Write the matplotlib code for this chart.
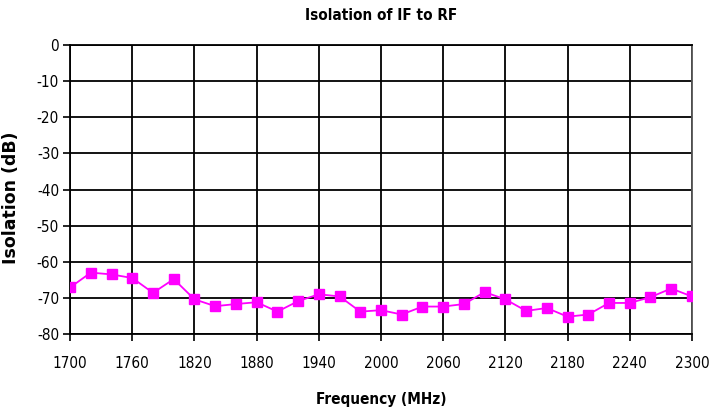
import matplotlib
matplotlib.use("Agg")
import matplotlib.pyplot as plt

# frequency points (MHz) and measured isolation (dB)
freq = list(range(1700, 2301, 20))
isolation = [
    -67.1, -63.0, -63.5, -64.5, -68.6, -64.8, -70.4, -72.3, -71.7, -71.2,
    -73.8, -70.9, -69.0, -69.6, -73.8, -73.4, -74.6, -72.4, -72.4, -71.7,
    -68.4, -70.4, -73.6, -72.8, -75.2, -74.6, -71.4, -71.4, -69.8, -67.4,
    -69.6,
]
xticks = list(range(1700, 2301, 60))
yticks = list(range(-80, 1, 10))

plt.rcParams["font.family"] = ["DejaVu Sans"]
plt.rcParams["font.stretch"] = "condensed"
plt.rcParams["axes.unicode_minus"] = False

fig = plt.figure(figsize=(7.23, 4.17), dpi=100)
ax = fig.add_axes([0.097, 0.199, 0.860, 0.693])

ax.plot(freq, isolation, color="#ff00ff", linewidth=1.3, marker="s",
        markersize=7, markeredgecolor="#ff00ff", zorder=3)

ax.set_xlim(1700, 2300)
ax.set_ylim(-80, 0)
ax.set_xticks(xticks)
ax.set_yticks(yticks)
ax.grid(True, color="black", linewidth=1.3)
for s in ax.spines.values():
    s.set_linewidth(1.3)
ax.spines["right"].set_color("#555555")
ax.tick_params(axis="both", length=5, width=1.2, labelsize=11, pad=6)
ax.tick_params(axis="y", pad=3)
ax.tick_params(axis="x", pad=11)

ax.set_title("Isolation of IF to RF", fontsize=11, fontweight="bold", pad=18)
ax.set_xlabel("Frequency (MHz)", fontsize=11, fontweight="bold", labelpad=15)
ax.set_ylabel("Isolation (dB)", fontsize=12.5, fontweight="bold",
              fontstretch="normal")
ax.yaxis.set_label_coords(-0.08, 0.47)

fig.savefig("out.png", dpi=100)
